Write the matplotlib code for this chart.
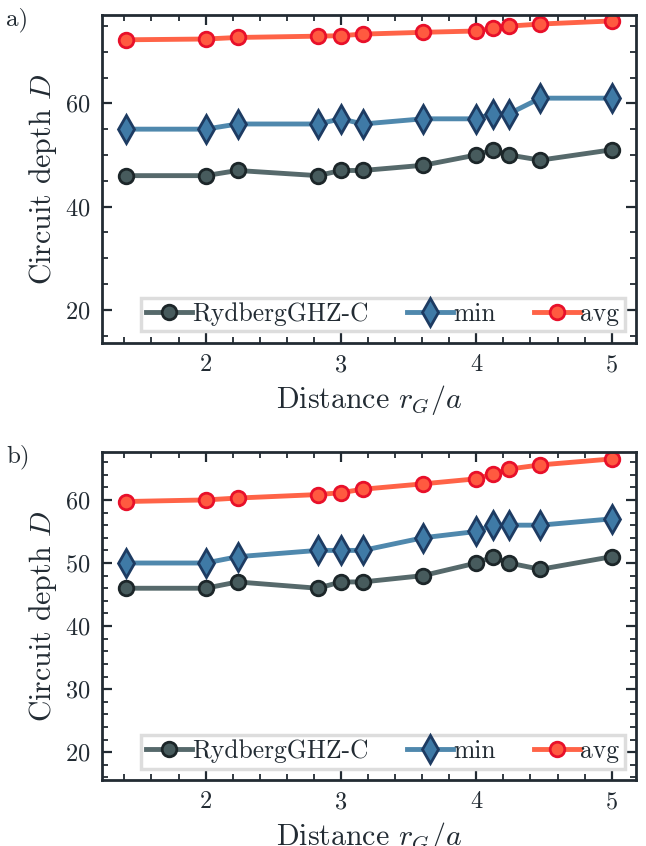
import numpy as np
import matplotlib
matplotlib.use("Agg")
import matplotlib.pyplot as plt

plt.rcParams['font.family'] = ['cmr10', 'DejaVu Serif']
plt.rcParams['mathtext.fontset'] = 'cm'
plt.rcParams['axes.formatter.use_mathtext'] = True

# distances r_G/a (sqrt of integer squared distances)
dist = np.sqrt([2, 4, 5, 8, 9, 10, 13, 16, 17, 18, 20, 25])

# panel a
ryd_a = [46, 46, 47, 46, 47, 47, 48, 50, 51, 50, 49, 51]
min_a = [55, 55, 56, 56, 57, 56, 57, 57, 58, 58, 61, 61]
avg_a = [72.3, 72.45, 72.75, 73.0, 73.1, 73.4, 73.75, 74.0, 74.5, 74.95, 75.35, 75.95]

# panel b
ryd_b = [46, 46, 47, 46, 47, 47, 48, 50, 51, 50, 49, 51]
min_b = [50, 50, 51, 52, 52, 52, 54, 55, 56, 56, 56, 57]
avg_b = [59.75, 60.0, 60.3, 60.85, 61.15, 61.7, 62.55, 63.35, 64.1, 64.9, 65.55, 66.5]

ink = '#222b33'


def DrawPanel(ax, ryd, mn, avg, ylim, yticks, minor_step, tag):
	ax.plot(dist, ryd, '-o', color='#56696b', lw=3.5, ms=10.5,
	        mfc='#475b5d', mec='#1c2629', mew=2, label='RydbergGHZ-C')
	ax.plot(dist, mn, '-d', color='#4f88ad', lw=3.5, ms=14,
	        mfc='#3f7aa6', mec='#1d3b62', mew=2, label='min')
	ax.plot(dist, avg, '-o', color='#ff6347', lw=3.5, ms=10.5,
	        mfc='#ff5a40', mec='#e8102a', mew=2, label='avg')
	ax.set_ylim(*ylim)
	ax.set_yticks(yticks)
	ax.set_xticks([2, 3, 4, 5])
	ax.xaxis.set_minor_locator(matplotlib.ticker.MultipleLocator(0.2))
	ax.yaxis.set_minor_locator(matplotlib.ticker.MultipleLocator(minor_step))
	ax.tick_params(which='both', direction='in', top=True, right=True,
	               color=ink, labelsize=17.5, labelcolor=ink, width=1.6)
	ax.tick_params(which='major', length=7, pad=8)
	ax.tick_params(which='minor', length=4, width=1.3)
	for s in ax.spines.values():
		s.set_linewidth(2)
		s.set_color(ink)
	ax.set_xlabel('Distance $r_G/a$', fontsize=21.5, color=ink, labelpad=5)
	ax.set_ylabel('Circuit depth $D$', fontsize=21.5, color=ink, labelpad=5)
	leg = ax.legend(loc='lower right', ncol=3, fontsize=18.4, fancybox=False,
	                handlelength=1.8, handletextpad=0.0, columnspacing=1.5,
	                borderpad=0.2, borderaxespad=0.45, framealpha=1)
	leg.get_frame().set_edgecolor('#dddddd')
	leg.get_frame().set_linewidth(2.5)
	for t in leg.get_texts():
		t.set_color(ink)
	ax.text(-0.18, 0.985, tag, transform=ax.transAxes, fontsize=18, color=ink,
	        ha='left', va='center')


fig = plt.figure(figsize=(6.46, 8.46), dpi=100)
ax_a = fig.add_axes([102 / 646, 1 - 343 / 846, 534 / 646, 328 / 846])
ax_b = fig.add_axes([102 / 646, 1 - 780 / 846, 534 / 646, 328 / 846])

DrawPanel(ax_a, ryd_a, min_a, avg_a, (13.6, 77.1), [20, 40, 60], 5, 'a)')
DrawPanel(ax_b, ryd_b, min_b, avg_b, (15.6, 67.6), [20, 30, 40, 50, 60], 2, 'b)')

fig.savefig('out.png', dpi=100)
